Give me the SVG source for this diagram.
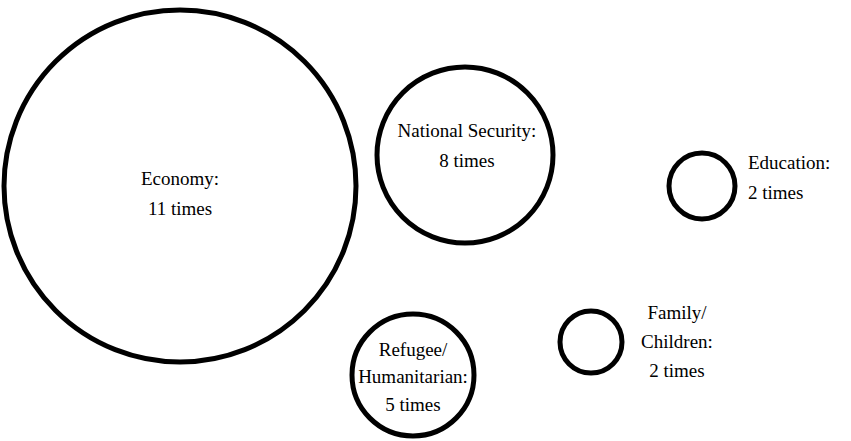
<svg xmlns="http://www.w3.org/2000/svg" width="851" height="441" viewBox="0 0 851 441">
<style>
.c{fill:none;stroke:#000;stroke-width:5}
.t{font-family:"Liberation Serif","Noto Serif","DejaVu Serif",serif;font-size:19px;fill:#000}
.m{text-anchor:middle}
</style>
<rect width="851" height="441" fill="#fff"/>
<g id="economy"><circle class="c" cx="180" cy="186" r="176"/>
<text class="t m" x="180" y="185">Economy:</text><text class="t m" x="180" y="215">11 times</text></g>
<g id="national-security"><circle class="c" cx="465" cy="155" r="88"/>
<text class="t m" x="467" y="137">National Security:</text><text class="t m" x="467" y="167">8 times</text></g>
<g id="education"><circle class="c" cx="702" cy="186" r="33"/>
<text class="t" x="748" y="169">Education:</text><text class="t" x="748" y="199">2 times</text></g>
<g id="refugee"><circle class="c" cx="413" cy="375" r="61"/>
<text class="t m" x="413" y="356">Refugee/</text><text class="t m" x="413" y="383">Humanitarian:</text><text class="t m" x="413" y="411">5 times</text></g>
<g id="family"><circle class="c" cx="591" cy="342" r="31"/>
<text class="t m" x="677" y="319">Family/</text><text class="t m" x="677" y="348">Children:</text><text class="t m" x="677" y="377">2 times</text></g>
<g id="connectors"/>
</svg>
